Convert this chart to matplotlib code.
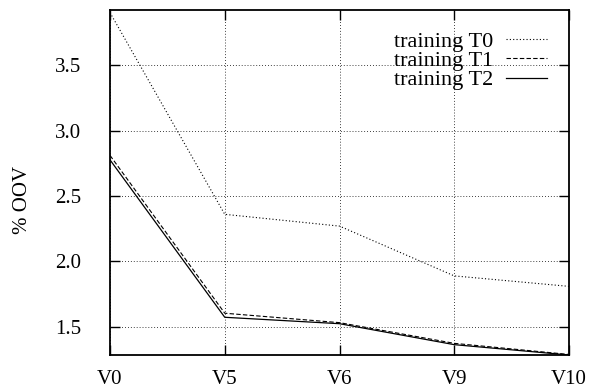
import matplotlib
matplotlib.use("Agg")
import matplotlib.pyplot as plt

versions = ["V0", "V5", "V6", "V9", "V10"]
t0 = [3.90, 2.36, 2.27, 1.89, 1.81]
t1 = [2.81, 1.605, 1.533, 1.375, 1.29]
t2 = [2.776, 1.574, 1.525, 1.365, 1.286]
yticks = [1.5, 2.0, 2.5, 3.0, 3.5]

plt.rcParams['font.family'] = ['Liberation Serif', 'DejaVu Serif']

fig = plt.figure(figsize=(5.95, 3.89), dpi=100)
ax = fig.add_axes([110/595, 34/389, 459/595, 345/389])

x = list(range(len(versions)))
ax.plot(x, t0, color='black', lw=0.8, linestyle=(0, (1, 2)), label='training T0')
ax.plot(x, t1, color='black', lw=0.8, linestyle=(0, (4, 2)), label='training T1')
ax.plot(x, t2, color='black', lw=0.9, linestyle='-', label='training T2')

ax.set_xlim(0, len(versions) - 1)
ax.set_ylim(1.286, 3.92)
ax.set_xticks(x)
ax.set_xticklabels(versions)
ax.set_yticks(yticks)
ax.set_yticklabels([f"{v:.1f}" for v in yticks])

ax.grid(True, color='black', linestyle=(0, (1, 2.5)), linewidth=0.6)
ax.tick_params(direction='in', length=7, width=1.0, top=True, right=True,
               labelsize=15)
ax.tick_params(axis='y', pad=21)
ax.tick_params(axis='x', pad=11)
for s in ax.spines.values():
    s.set_linewidth(1.3)

ax.set_ylabel('% OOV', fontsize=15)
ax.yaxis.set_label_coords(-0.17, 0.449)

ax.legend(loc='upper right', bbox_to_anchor=(547/595, 1 - 31/389),
          bbox_transform=fig.transFigure, frameon=False, markerfirst=False,
          fontsize=16, handlelength=1.85, handletextpad=0.55, labelspacing=-0.05,
          borderpad=0, borderaxespad=0)

fig.savefig('out.png', dpi=100)
